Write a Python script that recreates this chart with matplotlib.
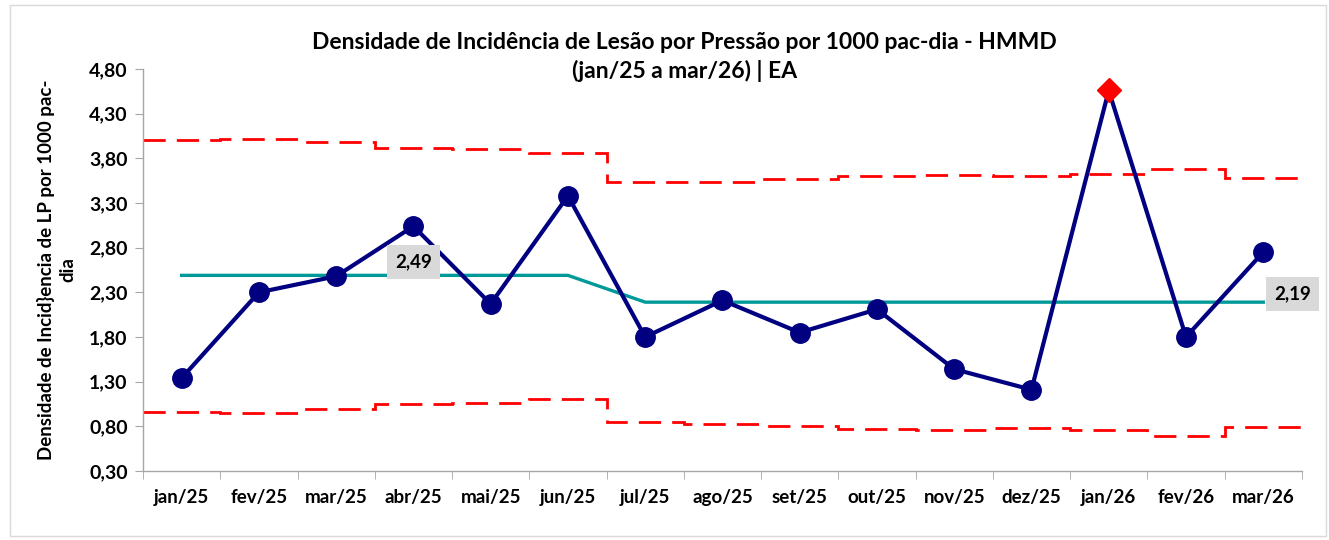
import numpy as np
import matplotlib
matplotlib.use("Agg")
import matplotlib.pyplot as plt
from matplotlib.patches import Rectangle

plt.rcParams["font.family"] = ["Lato", "DejaVu Sans"]
plt.rcParams["font.weight"] = "bold"

# ==========================================================
# Data
# ==========================================================

months = [
    "jan/25", "fev/25", "mar/25", "abr/25", "mai/25", "jun/25", "jul/25",
    "ago/25", "set/25", "out/25", "nov/25", "dez/25", "jan/26", "fev/26",
    "mar/26",
]

density = [1.34, 2.30, 2.48, 3.04, 2.17, 3.38, 1.80, 2.21, 1.85, 2.11,
           1.44, 1.21, 4.56, 1.80, 2.75]

center_line = [2.49, 2.49, 2.49, 2.49, 2.49, 2.49, 2.19, 2.19, 2.19, 2.19,
               2.19, 2.19, 2.19, 2.19, 2.19]

upper_limit = [4.01, 4.02, 3.98, 3.92, 3.91, 3.86, 3.53, 3.53, 3.57, 3.60,
               3.61, 3.60, 3.62, 3.68, 3.58]

lower_limit = [0.96, 0.95, 0.99, 1.05, 1.06, 1.11, 0.85, 0.83, 0.80, 0.77,
               0.76, 0.78, 0.76, 0.69, 0.79]

y_ticks = [0.30, 0.80, 1.30, 1.80, 2.30, 2.80, 3.30, 3.80, 4.30, 4.80]

# point above the upper limit
out_of_control = [12]

# ==========================================================
# Figure
# ==========================================================

fig = plt.figure(figsize=(13.29, 5.40), dpi=100)
fig.patches.append(
    Rectangle((0.0075, 0.008), 0.99, 0.982, transform=fig.transFigure,
              fill=False, edgecolor="#d9d9d9", linewidth=1.0)
)

ax = fig.add_axes([0.1076, 0.1278, 0.872, 0.7444])

x = np.arange(len(months))
edges = np.arange(len(months) + 1) - 0.5

red = "#ff0000"
navy = "#000080"
teal = "#009999"

ax.stairs(upper_limit, edges, color=red, linewidth=2.0,
          linestyle=(0, (8, 4)), baseline=None, zorder=2)
ax.stairs(lower_limit, edges, color=red, linewidth=2.0,
          linestyle=(0, (8, 4)), baseline=None, zorder=2)

ax.plot(x, center_line, color=teal, linewidth=2.4, zorder=3)

in_control = [i for i in x if i not in out_of_control]
ax.plot(x, density, color=navy, linewidth=3.0, marker="o",
        markersize=14, markevery=in_control, zorder=4)

for i in out_of_control:
    ax.plot(x[i], density[i], marker="D", markersize=12, color=red,
            markeredgecolor=red, linestyle="none", zorder=5)

# center line labels
box = dict(facecolor="#d9d9d9", edgecolor="none", pad=6)
ax.text(3, center_line[3] + 0.15, f"{center_line[3]:.2f}".replace(".", ","),
        ha="center", va="center", fontsize=13.5, fontweight="bold", bbox=box,
        zorder=6)
ax.text(x[-1] + 0.14, center_line[-1] + 0.09,
        f"{center_line[-1]:.2f}".replace(".", ","),
        ha="left", va="center", fontsize=13.5, fontweight="bold", bbox=box,
        zorder=6, clip_on=False)

# ==========================================================
# Axes styling
# ==========================================================

ax.set_xlim(-0.5, len(months) - 0.5)
ax.set_ylim(0.30, 4.80)

ax.set_yticks(y_ticks)
ax.set_yticklabels([f"{v:.2f}".replace(".", ",") for v in y_ticks])

ax.set_xticks(x)
ax.set_xticklabels(months)
ax.set_xticks(edges, minor=True)
ax.tick_params(axis="x", which="major", length=0, pad=13, labelsize=13.5)
ax.tick_params(axis="x", which="minor", length=6, color="#a6a6a6")
ax.tick_params(axis="y", length=6, color="#a6a6a6", labelsize=14, pad=5)

for lbl in ax.get_xticklabels() + ax.get_yticklabels():
    lbl.set_fontweight("bold")

for side in ["top", "right"]:
    ax.spines[side].set_visible(False)
for side in ["left", "bottom"]:
    ax.spines[side].set_color("#a6a6a6")
    ax.spines[side].set_linewidth(1.0)

ax.set_ylabel("Densidade de Incid}encia de LP por 1000 pac-\ndia",
              fontsize=13.5, fontweight="bold", labelpad=9,
              linespacing=1.3)

fig.text(0.515, 0.895,
         "Densidade de Incidência de Lesão por Pressão por 1000 pac-dia - HMMD\n"
         "(jan/25 a mar/26) | EA",
         ha="center", va="center", fontsize=16.5, fontweight="bold",
         linespacing=1.4)

fig.savefig("out.png", dpi=100)
plt.close(fig)
